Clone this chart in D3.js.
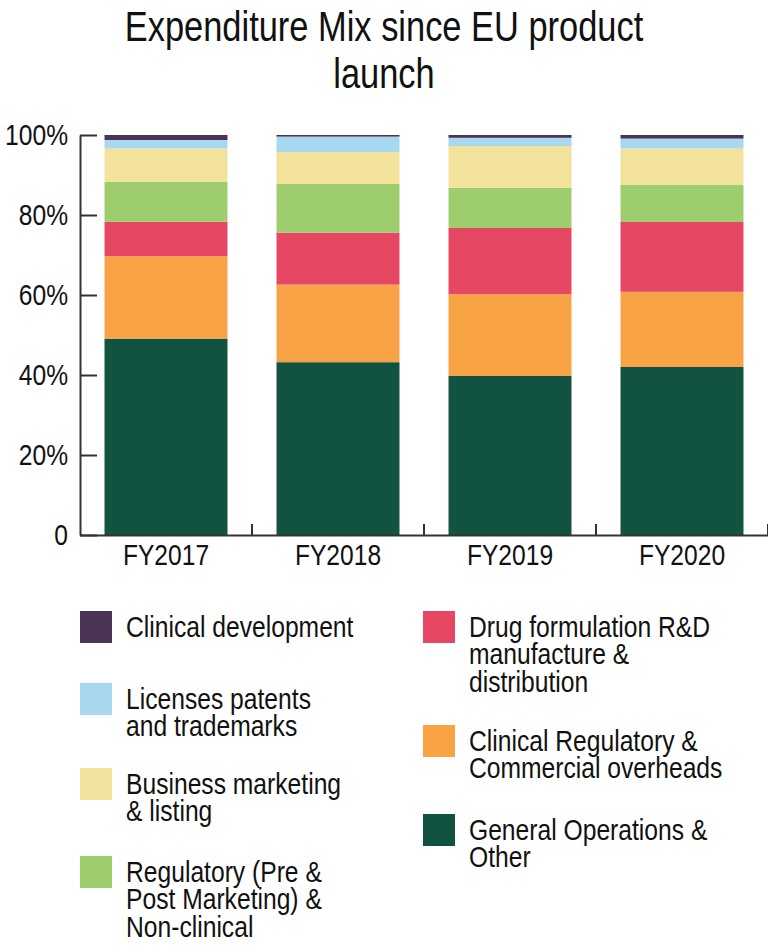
<!DOCTYPE html>
<html>
<head>
<meta charset="utf-8">
<script src="https://cdn.jsdelivr.net/npm/d3@7/dist/d3.min.js"></script>
<style>
  html, body { margin: 0; padding: 0; background: #fff; }
  svg text { font-family: "Liberation Sans", Arial, sans-serif; fill: #111; }
</style>
</head>
<body>
<svg id="chart" width="768" height="945"></svg>
<script>
// ---- data ----
const years = ["FY2017", "FY2018", "FY2019", "FY2020"];
const generalOps          = [49.1, 43.2, 39.75, 42.0];
const clinicalRegulatory  = [20.6, 19.4, 20.45, 18.8];
const drugFormulation     = [8.6, 13.0, 16.55, 17.45];
const regulatoryPrePost   = [10.0, 12.15, 10.05, 9.25];
const businessMarketing   = [8.3, 8.0, 10.45, 9.1];
const licensesPatents     = [2.15, 3.85, 2.05, 2.5];
const clinicalDevelopment = [1.25, 0.4, 0.7, 0.9];
const yTickValues = [0, 20, 40, 60, 80, 100];
const yTickLabels = ["0", "20%", "40%", "60%", "80%", "100%"];

// series in stacking order (bottom -> top)
const seriesKeys = ["general", "clinReg", "drug", "regulatory", "business", "licenses", "clinDev"];
const seriesValues = {
  general: generalOps, clinReg: clinicalRegulatory, drug: drugFormulation,
  regulatory: regulatoryPrePost, business: businessMarketing,
  licenses: licensesPatents, clinDev: clinicalDevelopment
};
const seriesLabels = {
  clinDev: ["Clinical development"],
  licenses: ["Licenses patents", "and trademarks"],
  business: ["Business marketing", "& listing"],
  regulatory: ["Regulatory (Pre &", "Post Marketing) &", "Non-clinical"],
  drug: ["Drug formulation R&D", "manufacture &", "distribution"],
  clinReg: ["Clinical Regulatory &", "Commercial overheads"],
  general: ["General Operations &", "Other"]
};
const legendLeft = ["clinDev", "licenses", "business", "regulatory"];
const legendRight = ["drug", "clinReg", "general"];

const colors = {
  clinDev: "#4b3555", licenses: "#a7d8f0", business: "#f2e29c",
  regulatory: "#9ecd6e", drug: "#e64763", clinReg: "#f8a446", general: "#125240"
};

const NARROW = 0.82;        // horizontal condensing to mimic a narrow sans
const NARROW_LEGEND = 0.85;

// ---- build table ----
const table = years.map((y, i) => {
  const row = { year: y };
  seriesKeys.forEach(k => row[k] = seriesValues[k][i]);
  return row;
});
const stacked = d3.stack().keys(seriesKeys)(table);

const svg = d3.select("#chart");

function narrowText(sel) {
  sel.each(function () {
    const t = d3.select(this);
    const xx = +t.attr("x") || 0;
    t.attr("x", 0).attr("transform", `translate(${xx},0) scale(${NARROW},1)`);
  });
}

// title
svg.append("text").attr("transform", `translate(384,41) scale(${NARROW},1)`).attr("text-anchor", "middle")
  .style("font-size", "42px").text("Expenditure Mix since EU product");
svg.append("text").attr("transform", `translate(384,88) scale(${NARROW},1)`).attr("text-anchor", "middle")
  .style("font-size", "42px").text("launch");

// scales
const x = d3.scaleBand().domain(years).range([80, 768]).paddingInner(0.285).paddingOuter(0.1425);
const y = d3.scaleLinear().domain([0, 100]).range([535, 135]);

// bars
svg.append("g").selectAll("g").data(stacked).join("g")
  .attr("fill", d => colors[d.key])
  .selectAll("rect").data(d => d).join("rect")
  .attr("x", d => x(d.data.year))
  .attr("width", x.bandwidth())
  .attr("y", d => y(d[1]))
  .attr("height", d => y(d[0]) - y(d[1]));

// y axis
const yAxis = svg.append("g").attr("transform", "translate(80,0)")
  .call(d3.axisLeft(y).tickValues(yTickValues)
    .tickFormat((d, i) => yTickLabels[i])
    .tickSize(-17).tickSizeOuter(0).tickPadding(12));
yAxis.selectAll("text").style("font-size", "30px").call(narrowText);
yAxis.selectAll("line, path").attr("stroke", "#333").attr("stroke-width", 2);

// x axis
const xAxis = svg.append("g").attr("transform", "translate(0,535)")
  .call(d3.axisBottom(x).tickSize(0).tickSizeOuter(0).tickPadding(9));
xAxis.selectAll("text").style("font-size", "30px").call(narrowText);
xAxis.select("path").attr("stroke", "#333").attr("stroke-width", 2);
// separator ticks between bands
const step = x.step();
xAxis.selectAll("line.sep").data(years).join("line").attr("class", "sep")
  .attr("x1", d => x(d) + x.bandwidth() + (step - x.bandwidth()) / 2)
  .attr("x2", d => x(d) + x.bandwidth() + (step - x.bandwidth()) / 2)
  .attr("y1", 0).attr("y2", -11)
  .attr("stroke", "#333").attr("stroke-width", 2);

// legend
const lineH = 27.5;
function drawLegend(keys, x0, tops) {
  const g = svg.append("g");
  keys.forEach((k, i) => {
    const top = tops[i];
    g.append("rect").attr("x", x0).attr("y", top).attr("width", 32).attr("height", 32)
      .attr("fill", colors[k]);
    const t = g.append("text").style("font-size", "29px")
      .attr("transform", `translate(${x0 + 46},0) scale(${NARROW_LEGEND},1)`);
    seriesLabels[k].forEach((ln, j) => {
      t.append("tspan").attr("x", 0).attr("y", top + 26 + j * lineH).text(ln);
    });
  });
}
drawLegend(legendLeft, 80, [611, 683, 768, 856]);
drawLegend(legendRight, 423, [611, 725, 814]);
</script>
</body>
</html>
